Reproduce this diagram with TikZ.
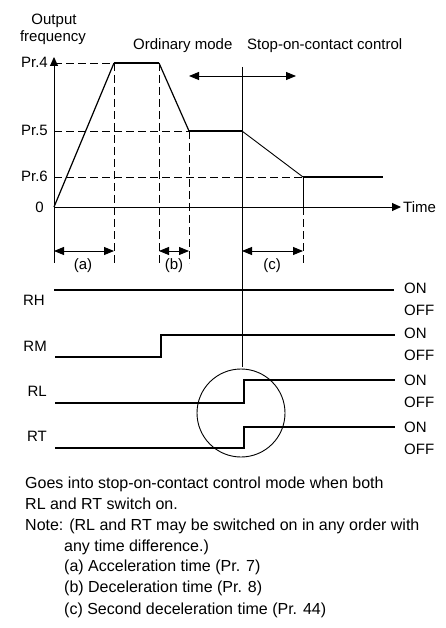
\documentclass[tikz,border=0pt]{standalone}
\usepackage{fontspec}
\setmainfont{Liberation Sans}
\usetikzlibrary{arrows.meta, positioning, calc}
\tikzset{
  guide/.style={dash pattern=on 8pt off 4pt, line width=0.8pt},
  plateau/.style={line width=2pt},
  ramp/.style={line width=1.2pt},
  signal/.style={line width=2pt, line join=miter},
  axis/.style={line width=0.9pt, -{Triangle[length=9pt, width=8pt]}},
  dimline/.style={line width=0.9pt, {Triangle[length=10pt, width=8pt]}-{Triangle[length=10pt, width=8pt]}},
  lbl/.style={inner sep=0pt},
  notetext/.style={inner sep=0pt, anchor=base west, font=\fontsize{16}{19}\selectfont},
}

\begin{document}
\begin{tikzpicture}[x=1pt, y=-1pt, font=\fontsize{15}{18}\selectfont]
  \useasboundingbox (0,0) rectangle (445,628);
  % frequency curve corners
  \coordinate (o) at (54,207);
  \coordinate (ytip) at (54,57);
  \coordinate (xtip) at (401,207);
  \coordinate (p1) at (114,63);
  \coordinate (p2) at (159,63);
  \coordinate (p3) at (189,131);
  \coordinate (p4) at (242,131);
  \coordinate (p5) at (303,177);
  \coordinate (p6) at (383,177);

  % guide lines
  \draw[guide] (54,63) -- (p1);
  \draw[guide] (54,131) -- (p3);
  \draw[guide] (54,177) -- (p5);
  \draw[guide] (p1) -- (114,263);
  \draw[guide] (p2) -- (159,263);
  \draw[guide] (p3) -- (189,263);
  \draw[line width=0.9pt] (p5) -- (303,207);
  \draw[guide] (303,207) -- (303,263);
  \draw[line width=0.9pt] (o) -- (54,263);
  \draw[line width=0.9pt] (242,67) -- (242,367);

  % axes
  \draw[axis] (o) -- (ytip);
  \draw[axis] (o) -- (xtip);
  \node[lbl, anchor=base west] (time) at (403,212) {Time};
  \node[lbl, anchor=base] (outlbl) at (54,25) {Output};
  \node[lbl, anchor=base] (freqlbl) at (53,42) {frequency};
  \node[lbl, anchor=base east] (pr4) at (48,68) {Pr.4};
  \node[lbl, anchor=base east] (pr5) at (48,136) {Pr.5};
  \node[lbl, anchor=base east] (pr6) at (48,182) {Pr.6};
  \node[lbl, anchor=base east] (zero) at (44,212) {0};

  % output frequency
  \draw[ramp] (o) -- (p1);
  \draw[plateau] (p1) -- (p2);
  \draw[ramp] (p2) -- (p3);
  \draw[plateau] (p3) -- (p4);
  \draw[line width=0.9pt] (p4) -- (p5);
  \draw[plateau] (p5) -- (p6);

  % modes
  \node[lbl, anchor=base west] (ordmode) at (133,50) {Ordinary mode};
  \node[lbl, anchor=base west] (socmode) at (247,50) {Stop-on-contact control};
  \draw[dimline] (189,76) -- (296,76);

  % time spans
  \draw[dimline] (54,251) -- (114,251);
  \draw[dimline] (159,251) -- (189,251);
  \draw[dimline] (242,251) -- (303,251);
  \node[lbl, anchor=base] (spana) at (83,269) {(a)};
  \node[lbl, anchor=base] (spanb) at (174,269) {(b)};
  \node[lbl, anchor=base] (spanc) at (272,269) {(c)};

  % signals
  \draw[signal] (54,290) -- (394,290);
  \draw[signal] (55,357) -- (161,357) -- (161,335) -- (395,335);
  \draw[signal] (55,403) -- (244,403) -- (244,380) -- (395,380);
  \draw[signal] (55,448) -- (244,448) -- (244,427) -- (395,427);
  \draw[line width=0.9pt] (241,413) circle (44);
  \node[lbl, anchor=base east] (rh) at (45,305) {RH};
  \node[lbl, anchor=base east] (rm) at (47,351) {RM};
  \node[lbl, anchor=base east] (rl) at (47,396) {RL};
  \node[lbl, anchor=base east] (rt) at (47,441) {RT};
  \foreach \y/\nm in {288/rh, 333/rm, 380/rl, 427/rt} {
    \node[lbl, anchor=west] (on\nm) at (404,\y) {ON};
    \node[lbl, anchor=west] (off\nm) at (404,\y+22) {OFF};
  }

  % notes
  \node[notetext] (note1) at (25,488) {Goes into stop-on-contact control mode when both};
  \node[notetext] (note2) at (25,509) {RL and RT switch on.};
  \node[notetext] (note3) at (25,530) {Note: (RL and RT may be switched on in any order with};
  \node[notetext] (note4) at (64,551) {any time difference.)};
  \node[notetext] (note5) at (64,571) {(a) Acceleration time (Pr. 7)};
  \node[notetext] (note6) at (64,592) {(b) Deceleration time (Pr. 8)};
  \node[notetext] (note7) at (64,614) {(c) Second deceleration time (Pr. 44)};
\end{tikzpicture}
\end{document}
